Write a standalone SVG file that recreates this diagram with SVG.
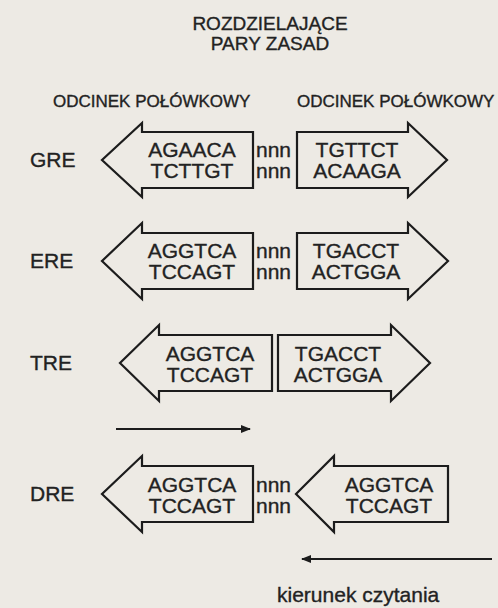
<svg xmlns="http://www.w3.org/2000/svg" width="498" height="608" viewBox="0 0 498 608">
  <style>
    .bg { fill: #edeae4; }
    .box { fill: none; stroke: #1c1c1c; stroke-width: 2.2; stroke-linejoin: miter; }
    text { font-family: "Liberation Sans", Arial, sans-serif; fill: #222; stroke: #222; stroke-width: 0.35; }
    .seq { font-size: 21px; text-anchor: middle; }
    .gap { font-size: 21px; }
    .lbl { font-size: 21px; }
    .hdr { font-size: 19px; text-anchor: middle; }
    .sub { font-size: 17px; }
    .dir { stroke: #1c1c1c; stroke-width: 2; fill: none; }
  </style>
  <defs>
    <marker id="head" viewBox="0 0 10 8" refX="9" refY="4" markerWidth="10" markerHeight="8" markerUnits="userSpaceOnUse" orient="auto">
      <path d="M0,0 L10,4 L0,8 Z" fill="#1c1c1c"/>
    </marker>
  </defs>

  <rect class="bg" x="0" y="0" width="498" height="608"/>

  <!-- headings -->
  <g id="spacer-heading">
    <text class="hdr" x="270" y="30">ROZDZIELAJĄCE</text>
    <text class="hdr" x="270" y="50">PARY ZASAD</text>
  </g>
  <g id="half-site-headings">
    <text class="sub" x="53" y="107">ODCINEK POŁÓWKOWY</text>
    <text class="sub" x="297" y="107">ODCINEK POŁÓWKOWY</text>
  </g>

  <!-- GRE: inverted repeat with 3 bp spacer -->
  <g id="gre">
    <text class="lbl" x="30" y="167">GRE</text>
    <path class="box" d="M253,132 L142,132 L142,123 L102,160 L142,197 L142,188 L253,188 Z"/>
    <text class="seq" x="192" y="157">AGAACA</text>
    <text class="seq" x="192" y="178">TCTTGT</text>
    <text class="gap" x="256" y="157">nnn</text>
    <text class="gap" x="256" y="178">nnn</text>
    <path class="box" d="M297,132 L408,132 L408,123 L447,160 L408,197 L408,188 L297,188 Z"/>
    <text class="seq" x="357" y="157">TGTTCT</text>
    <text class="seq" x="357" y="178">ACAAGA</text>
  </g>

  <!-- ERE: inverted repeat with 3 bp spacer -->
  <g id="ere">
    <text class="lbl" x="30" y="268">ERE</text>
    <path class="box" d="M253,233 L142,233 L142,223 L102,261 L142,299 L142,289 L253,289 Z"/>
    <text class="seq" x="192" y="258">AGGTCA</text>
    <text class="seq" x="192" y="279">TCCAGT</text>
    <text class="gap" x="256" y="258">nnn</text>
    <text class="gap" x="256" y="279">nnn</text>
    <path class="box" d="M297,233 L408,233 L408,223 L448,261 L408,299 L408,289 L297,289 Z"/>
    <text class="seq" x="356" y="258">TGACCT</text>
    <text class="seq" x="356" y="279">ACTGGA</text>
  </g>

  <!-- TRE: inverted repeat, no spacer -->
  <g id="tre">
    <text class="lbl" x="30" y="370">TRE</text>
    <path class="box" d="M272,335 L159,335 L159,325 L120,363 L159,401 L159,391 L272,391 Z"/>
    <text class="seq" x="210" y="361">AGGTCA</text>
    <text class="seq" x="210" y="382">TCCAGT</text>
    <path class="box" d="M278,335 L391,335 L391,325 L430,363 L391,401 L391,391 L278,391 Z"/>
    <text class="seq" x="338" y="361">TGACCT</text>
    <text class="seq" x="338" y="382">ACTGGA</text>
  </g>

  <!-- DRE: direct repeat with 3 bp spacer -->
  <g id="dre">
    <text class="lbl" x="30" y="501">DRE</text>
    <path class="box" d="M253,466 L142,466 L142,456 L102,494 L142,532 L142,522 L253,522 Z"/>
    <text class="seq" x="192" y="492">AGGTCA</text>
    <text class="seq" x="192" y="513">TCCAGT</text>
    <text class="gap" x="256" y="492">nnn</text>
    <text class="gap" x="256" y="513">nnn</text>
    <path class="box" d="M448,466 L334,466 L334,456 L296,494 L334,532 L334,522 L448,522 Z"/>
    <text class="seq" x="389" y="492">AGGTCA</text>
    <text class="seq" x="389" y="513">TCCAGT</text>
  </g>

  <!-- reading-direction arrows -->
  <g id="connectors">
    <line class="dir" x1="116" y1="429" x2="250" y2="429" marker-end="url(#head)"/>
    <line class="dir" x1="492" y1="559" x2="302" y2="559" marker-end="url(#head)"/>
  </g>

  <g id="reading-direction-label">
    <text class="lbl" x="277" y="602">kierunek czytania</text>
  </g>
</svg>
